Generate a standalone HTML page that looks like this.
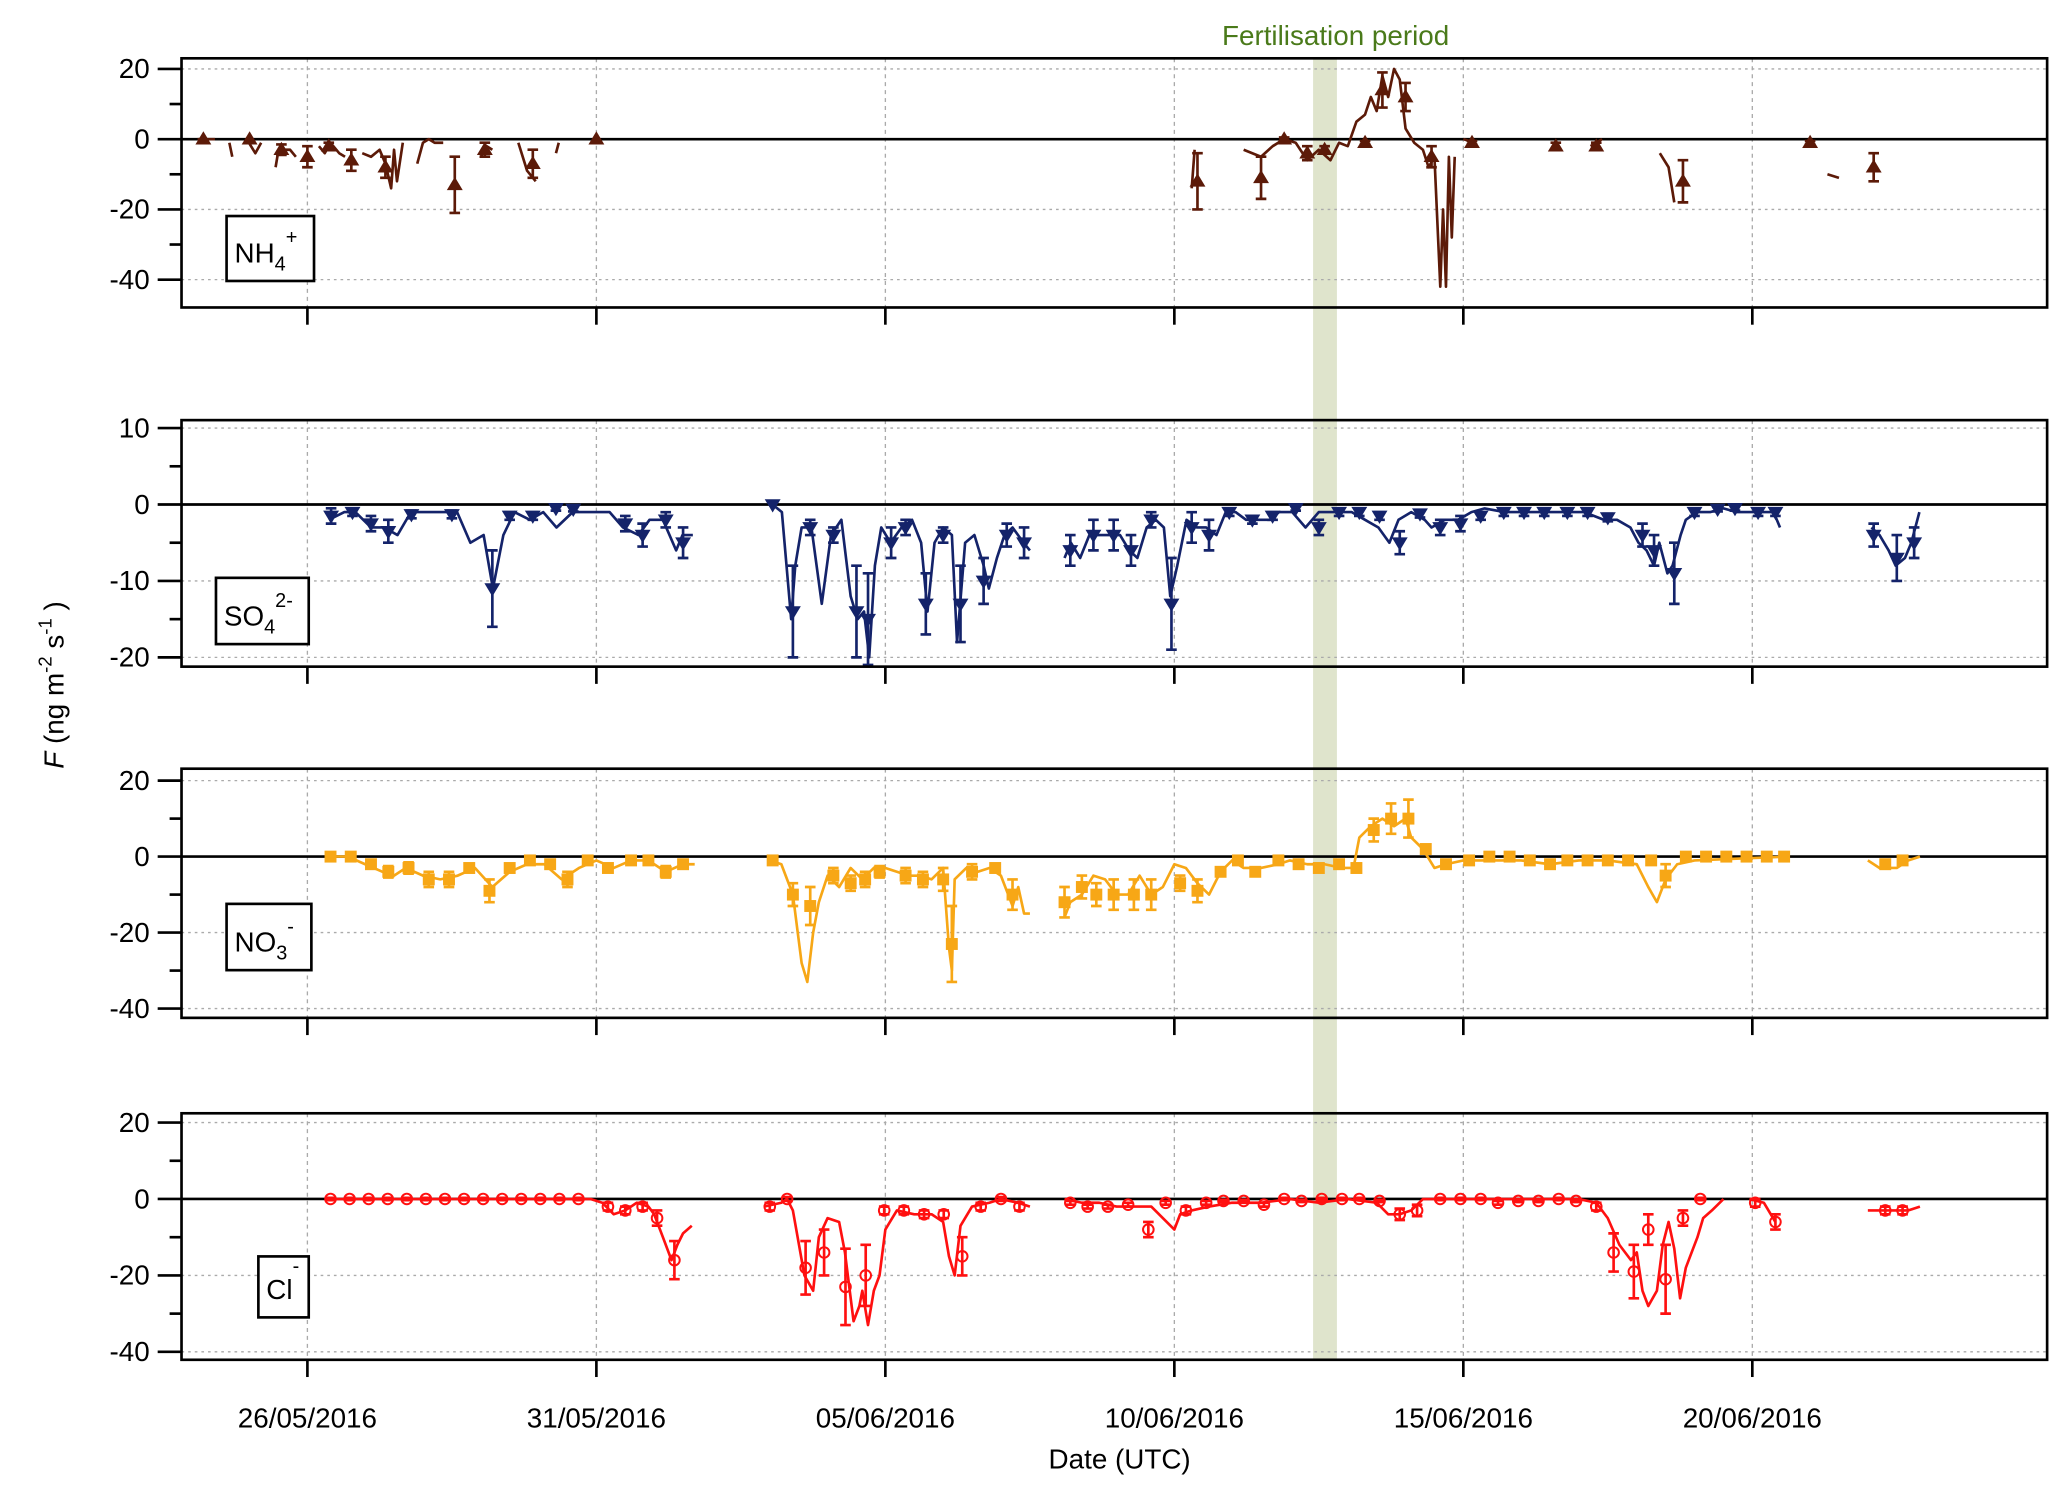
<!DOCTYPE html>
<html><head><meta charset="utf-8">
<style>
html,body{margin:0;padding:0;background:#fff;}
svg{display:block;font-family:"Liberation Sans",sans-serif;}
</style></head>
<body>
<svg id="chart" width="2067" height="1491" viewBox="0 0 1560 1125" preserveAspectRatio="none" xmlns="http://www.w3.org/2000/svg">
<rect x="991" y="44" width="18" height="981" fill="#dfe4cc"/>
<text x="1008" y="34" text-anchor="middle" font-size="21" fill="#4a7a1a">Fertilisation period</text>
<text x="845" y="1108" text-anchor="middle" font-size="21">Date (UTC)</text>
<text transform="translate(48,580) rotate(-90)" font-size="21"><tspan font-style="italic">F</tspan> (ng m<tspan dy="-9" font-size="14">-2</tspan><tspan dy="9"> s</tspan><tspan dy="-9" font-size="14">-1</tspan><tspan dy="9"> )</tspan></text>
<g id="layer"></g>
</svg>
<script>
// Shared x axis: days since 26/05/2016
const dateLabels = ["26/05/2016","31/05/2016","05/06/2016","10/06/2016","15/06/2016","20/06/2016"];
const dateDays = [0,5,10,15,20,25];

// NH4+
const nh4Line = [[-1.9,0],[-1.6,0],null,[-1.35,-1],[-1.3,-5],null,[-1.05,0],[-0.9,-4],[-0.8,-1],null,[-0.55,-8],[-0.5,-3],[-0.3,-3],[-0.2,-5],null,[0.2,-2],[0.3,-4],[0.4,-1],[0.55,-4],[0.65,-5],null,[0.95,-4],[1.1,-5],[1.25,-3],[1.35,-7],[1.45,-14],[1.5,-3],[1.55,-12],[1.65,-1],null,[1.9,-7],[2.0,-1],[2.1,0],[2.2,-1],[2.35,-1],null,[3.0,-5],[3.1,-2],[3.2,-3],null,[3.65,-1],[3.8,-9],[3.95,-12],null,[4.3,-4],[4.35,-1],null,[15.3,-14],[15.35,-3],null,[16.2,-3],[16.5,-5],[16.7,-2],[16.9,0],[17.1,-1],[17.3,-6],[17.5,-3],[17.7,-6],[17.85,-1],[18.0,-2],[18.15,5],[18.3,7],[18.4,12],[18.5,8],[18.6,18],[18.7,12],[18.8,20],[18.9,17],[19.0,3],[19.15,-1],[19.3,-3],[19.4,-8],[19.5,-5],[19.6,-42],[19.65,-20],[19.7,-42],[19.75,-5],[19.8,-28],[19.85,-5],null,[20.0,0],[20.2,-1],null,[22.2,-2],[22.4,0],null,[23.4,-4],[23.55,-8],[23.65,-18],null,[26.3,-10],[26.5,-11]];
const nh4Marks = [[-1.8,0,0],[-1.0,0,0],[-0.45,-3,1.5],[0,-5,3],[0.37,-2,1],[0.76,-6,3],[1.35,-8,3],[2.55,-13,8],[3.07,-3,2],[3.9,-7,4],[5.0,0,0],[15.4,-12,8],[16.5,-11,6],[16.9,0,0.5],[17.3,-4,2],[17.6,-3,1],[18.3,-1,0.5],[18.6,14,5],[19.0,12,4],[19.45,-5,3],[20.15,-1,0.5],[21.6,-2,1],[22.3,-2,1],[23.8,-12,6],[26.0,-1,0.5],[27.1,-8,4]];
// SO4 2-
const so4Line = [[0.37,-2],[0.64,-1],[0.83,-1],[1.10,-3],[1.33,-3],[1.56,-4],[1.79,-1],[2.25,-1],[2.59,-1],[2.82,-5],[3.05,-4],[3.21,-11],[3.39,-4],[3.58,-1],[3.85,-2],[4.08,-1],[4.31,-3],[4.59,-1],[5.0,-1],[5.23,-1],[5.46,-3],[5.73,-4],[5.92,-2],[6.15,-2],[6.38,-6],[6.49,-4],[6.67,-4],null,
[8.05,0],[8.21,-1],[8.37,-15],[8.44,-8],[8.55,-3],[8.72,-3],[8.9,-13],[9.06,-4],[9.24,-2],[9.4,-12],[9.52,-15],[9.63,-14],[9.72,-20],[9.82,-8],[9.93,-3],[10.09,-5],[10.28,-3],[10.46,-2],[10.62,-5],[10.73,-14],[10.85,-5],[11.0,-3],[11.15,-4],[11.24,-18],[11.38,-5],[11.54,-4],[11.7,-8],[11.79,-11],[11.93,-7],[12.06,-4],[12.2,-3],[12.39,-5],[12.5,-6],null,
[13.1,-7],[13.21,-5],[13.37,-7],[13.53,-4],[13.72,-4],[13.9,-4],[14.06,-4],[14.22,-6],[14.36,-7],[14.52,-3],[14.68,-2],[14.82,-3],[14.93,-12],[15.05,-8],[15.21,-2],[15.39,-3],[15.55,-3],[15.73,-4],[15.89,-1],[16.06,-1],[16.24,-2],[16.47,-2],[16.65,-2],[16.81,-1],[17.04,-1],[17.27,-3],[17.5,-1],[17.84,-1],[18.07,-1],[18.3,-2],[18.53,-3],[18.72,-5],[18.88,-2],[19.1,-1],[19.33,-2],[19.45,-3],[19.68,-2],[19.91,-2],[20.14,-1],[20.37,-0.5],[20.71,-1],[21.06,-1],[21.4,-1],[21.74,-1],[22.09,-1],[22.43,-2],[22.66,-2],[22.89,-3],[23.03,-5],[23.17,-6],[23.3,-8],[23.39,-5],[23.53,-9],[23.62,-8],[23.76,-4],[23.85,-2],[24.04,-1],[24.27,-1],[24.5,-0.5],[24.73,-1],[24.95,-1],[25.18,-1],[25.37,-1],[25.48,-3],null,
[27.06,-3],[27.2,-4],[27.36,-6],[27.48,-8],[27.64,-7],[27.75,-5],[27.89,-1]];
const so4Marks = [[0.41,-1.5,1],[0.78,-1,0.5],[1.1,-2.5,1],[1.4,-3.5,1.5],[1.8,-1.3,0.5],[2.5,-1.3,0.5],[3.2,-11,5],[3.5,-1.5,0.5],[3.9,-1.5,0.5],[4.3,-0.5,0.3],[4.6,-0.6,0.3],[5.5,-2.5,1],[5.8,-4,1.5],[6.2,-2,1],[6.5,-5,2],[8.05,0,0],[8.4,-14,6],[8.7,-3,1],[9.1,-4,1],[9.5,-14,6],[9.7,-15,6],[10.1,-5,2],[10.35,-3,1],[10.7,-13,4],[11.0,-4,1],[11.3,-13,5],[11.7,-10,3],[12.1,-4,1.5],[12.4,-5,2],[13.2,-6,2],[13.6,-4,2],[13.95,-4,2],[14.25,-6,2],[14.6,-2,1],[14.95,-13,6],[15.3,-3,2],[15.6,-4,2],[15.95,-1,0.5],[16.35,-2,0.5],[16.7,-1.5,0.5],[17.1,-0.5,0.3],[17.5,-3,1],[17.85,-1,0.5],[18.2,-1,0.5],[18.55,-1.5,0.5],[18.9,-5,1.5],[19.25,-1.2,0.5],[19.6,-3,1],[19.95,-2.5,1],[20.3,-1.5,0.5],[20.7,-1,0.5],[21.05,-1,0.5],[21.4,-1,0.5],[21.8,-1,0.5],[22.15,-1,0.5],[22.5,-1.7,0.5],[23.1,-4,1.5],[23.3,-6,2],[23.65,-9,4],[24.0,-1,0.5],[24.4,-0.6,0.3],[24.7,-0.5,0.3],[25.1,-1,0.5],[25.4,-1,0.5],[27.1,-4,1.5],[27.5,-7,3],[27.8,-5,2]];
// NO3-
const no3Line = [[0.4,0],[0.7,0],[1.0,-2],[1.3,-4],[1.5,-5],[1.7,-3],[2.0,-5],[2.3,-6],[2.6,-5],[2.9,-3],[3.2,-8],[3.5,-4],[3.8,-2],[4.1,-2],[4.4,-6],[4.7,-3],[5.0,-1],[5.3,-3],[5.6,-1],[5.9,-1],[6.2,-4],[6.5,-2],[6.7,-2],null,
[8.0,-1],[8.2,-2],[8.4,-10],[8.55,-28],[8.65,-33],[8.75,-20],[8.85,-12],[9.0,-5],[9.2,-8],[9.4,-3],[9.6,-6],[9.8,-3],[10.0,-3],[10.2,-4],[10.4,-5],[10.6,-5],[10.8,-6],[11.0,-3],[11.1,-24],[11.15,-30],[11.2,-6],[11.4,-3],[11.6,-4],[11.8,-3],[12.0,-5],[12.2,-13],[12.3,-8],[12.4,-15],[12.5,-15],null,
[13.1,-16],[13.2,-12],[13.4,-10],[13.6,-5],[13.8,-6],[14.0,-10],[14.2,-10],[14.4,-5],[14.6,-10],[14.8,-8],[15.0,-2],[15.2,-3],[15.4,-7],[15.6,-10],[15.8,-4],[16.0,-1],[16.2,-3],[16.5,-3],[16.8,-2],[17.0,-1],[17.3,-2],[17.6,-2],[17.9,-3],[18.1,-3],[18.2,5],[18.4,8],[18.6,10],[18.8,8],[19.0,10],[19.1,5],[19.3,2],[19.5,-3],[19.7,-2],[20.0,-1],[20.5,-1],[21.0,-1],[21.5,-2],[22.0,-1],[22.5,-1],[23.0,-2],[23.2,-8],[23.35,-12],[23.5,-6],[23.7,-2],[24.0,-1],[25.6,0],null,
[27.0,-1],[27.2,-3],[27.5,-3],[27.7,-1],[27.9,0]];
const no3Marks = [[0.4,0,0.5],[0.75,0,0.5],[1.1,-2,1],[1.4,-4,1.5],[1.75,-3,1.5],[2.1,-6,2],[2.45,-6,2],[2.8,-3,1],[3.15,-9,3],[3.5,-3,1],[3.85,-1,1],[4.2,-2,1],[4.5,-6,2],[4.85,-1,0.5],[5.2,-3,1],[5.6,-1,0.5],[5.9,-1,0.5],[6.2,-4,1.5],[6.5,-2,1],[8.05,-1,0.5],[8.4,-10,3],[8.7,-13,5],[9.1,-5,2],[9.4,-7,2],[9.65,-6,2],[9.9,-4,1.5],[10.35,-5,2],[10.65,-6,2],[11.0,-6,3],[11.15,-23,10],[11.5,-4,2],[11.9,-3,1],[12.2,-10,4],[13.1,-12,4],[13.4,-8,3],[13.65,-10,3],[13.95,-10,4],[14.3,-10,4],[14.6,-10,4],[15.1,-7,2],[15.4,-9,3],[15.8,-4,1],[16.1,-1,0.5],[16.4,-4,1],[16.8,-1,0.5],[17.15,-2,0.5],[17.5,-3,0.5],[17.85,-2,0.5],[18.15,-3,1],[18.45,7,3],[18.75,10,4],[19.05,10,5],[19.35,2,1],[19.7,-2,0.5],[20.1,-1,0.5],[20.45,0,0.5],[20.8,0,0.5],[21.15,-1,0.5],[21.5,-2,0.5],[21.8,-1,0.5],[22.15,-1,0.5],[22.5,-1,0.5],[22.85,-1,0.5],[23.25,-1,0.5],[23.5,-5,3],[23.85,0,0.3],[24.2,0,0.3],[24.55,0,0.3],[24.9,0,0.3],[25.25,0,0.3],[25.55,0,0.3],[27.3,-2,1],[27.6,-1,1]];
// Cl-
const clLine = [[0.4,0],[4.8,0],[4.9,0],[5.1,-1],[5.3,-4],[5.5,-3],[5.7,-1],[5.9,-2],[6.0,-4],[6.15,-10],[6.3,-16],[6.4,-12],[6.5,-9],[6.65,-7],null,
[7.9,-2],[8.2,-1],[8.3,0],[8.4,-3],[8.6,-20],[8.75,-24],[8.85,-10],[9.0,-5],[9.2,-6],[9.3,-14],[9.45,-32],[9.55,-28],[9.6,-24],[9.7,-33],[9.8,-24],[9.9,-20],[10.0,-8],[10.2,-3],[10.5,-4],[10.8,-4],[11.0,-6],[11.1,-15],[11.2,-20],[11.3,-7],[11.5,-2],[11.8,-1],[12.0,0],[12.3,-1],[12.5,-2],null,
[13.1,0],[13.4,-1],[13.7,-1],[14.0,-2],[14.3,-2],[14.6,-2],[14.8,-5],[15.0,-8],[15.1,-4],[15.3,-3],[15.6,-2],[16.0,-1],[16.5,-1],[17.0,0],[17.5,-1],[18.0,0],[18.5,-1],[18.7,-4],[18.9,-4],[19.1,-3],[19.3,0],[19.6,0],[20.0,0],[21.0,0],[22.0,0],[22.3,-1],[22.5,-5],[22.7,-12],[22.9,-16],[23.0,-14],[23.1,-24],[23.2,-28],[23.35,-24],[23.45,-12],[23.55,-6],[23.65,-13],[23.75,-26],[23.85,-18],[23.95,-14],[24.05,-10],[24.15,-5],[24.3,-3],[24.5,0],null,
[24.95,0],[25.2,-1],[25.4,-6],null,[27.0,-3],[27.3,-3],[27.5,-3],[27.7,-3],[27.9,-2]];
const clMarks = [[0.4,0,0.3],[0.73,0,0.3],[1.06,0,0.3],[1.39,0,0.3],[1.72,0,0.3],[2.05,0,0.3],[2.38,0,0.3],[2.71,0,0.3],[3.04,0,0.3],[3.37,0,0.3],[3.7,0,0.3],[4.03,0,0.3],[4.36,0,0.3],[4.69,0,0.3],[5.2,-2,1],[5.5,-3,1],[5.8,-2,1],[6.05,-5,2],[6.35,-16,5],[8.0,-2,1],[8.3,0,0.5],[8.62,-18,7],[8.94,-14,6],[9.31,-23,10],[9.66,-20,8],[9.98,-3,1],[10.32,-3,1],[10.67,-4,1],[11.01,-4,1],[11.33,-15,5],[11.65,-2,1],[12.0,0,0.5],[12.32,-2,1],[13.2,-1,0.5],[13.5,-2,0.5],[13.85,-2,0.5],[14.2,-1.5,0.5],[14.55,-8,2],[14.85,-1,0.5],[15.2,-3,1],[15.55,-1,0.5],[15.85,-0.5,0.3],[16.2,-0.5,0.3],[16.55,-1.5,0.5],[16.9,0,0.3],[17.2,-0.5,0.3],[17.55,0,0.3],[17.9,0,0.3],[18.2,0,0.3],[18.55,-0.5,0.3],[18.9,-4,1.5],[19.2,-3,1.5],[19.6,0,0.3],[19.95,0,0.3],[20.3,0,0.3],[20.6,-1,0.5],[20.95,-0.5,0.3],[21.3,-0.5,0.3],[21.65,0,0.3],[21.95,-0.5,0.3],[22.3,-2,1],[22.6,-14,5],[22.95,-19,7],[23.2,-8,4],[23.5,-21,9],[23.8,-5,2],[24.1,0,0.3],[25.05,-1,1],[25.4,-6,2],[27.3,-3,1],[27.6,-3,1]];

const NS="http://www.w3.org/2000/svg";
const layer=document.getElementById('layer');
const X0=137, X1=1545, XD0=232, PXDAY=43.62;
function xs(d){return XD0+d*PXDAY;}
function mk(tag,attrs,parent){const e=document.createElementNS(NS,tag);for(const k in attrs)e.setAttribute(k,attrs[k]);(parent||layer).appendChild(e);return e;}

const panels=[
 {name:'nh4',top:44,bot:232,ymax:20,ymin:-40,yTop:52,yBot:211,ticks:[20,0,-20,-40],minor:[10,-10,-30],color:'#5c1a08',line:nh4Line,marks:nh4Marks,shape:'tri-up',label:['NH','4','+'],box:[171,163,66,49]},
 {name:'so4',top:317,bot:503,ymax:10,ymin:-20,yTop:323,yBot:496,ticks:[10,0,-10,-20],minor:[5,-5,-15],color:'#14236a',line:so4Line,marks:so4Marks,shape:'tri-down',label:['SO','4','2-'],box:[163,436,70,50]},
 {name:'no3',top:580,bot:768,ymax:20,ymin:-40,yTop:589,yBot:761,ticks:[20,0,-20,-40],minor:[10,-10,-30],color:'#f7a716',line:no3Line,marks:no3Marks,shape:'square',label:['NO','3','-'],box:[171,682,64,50]},
 {name:'cl',top:840,bot:1026,ymax:20,ymin:-40,yTop:847,yBot:1020,ticks:[20,0,-20,-40],minor:[10,-10,-30],color:'#ff1010',line:clLine,marks:clMarks,shape:'circle',label:['Cl','',''],box:[195,948,38,46]}
];

panels.forEach((p,pi)=>{
 const ys=v=>p.yTop+(p.ymax-v)*(p.yBot-p.yTop)/(p.ymax-p.ymin);
 const g=mk('g',{});
 
 
 dateDays.forEach(d=>{const l=mk('line',{x1:xs(d),x2:xs(d),y1:p.top,y2:p.bot,stroke:'#aaa','stroke-width':1,'stroke-dasharray':'3,3'},g);
  
  });
 p.ticks.forEach(t=>{if(t===0)return;const l=mk('line',{x1:X0,x2:X1,y1:ys(t),y2:ys(t),stroke:'#aaa','stroke-width':1,'stroke-dasharray':'2,3'},g);
  
  });
 const z=mk('line',{x1:X0,x2:X1,y1:ys(0),y2:ys(0),stroke:'#000','stroke-width':2},g);
 
 
 let d='',pen=false;
 p.line.forEach(pt=>{if(!pt){pen=false;return;}d+=(pen?'L':'M')+xs(pt[0]).toFixed(1)+','+ys(pt[1]).toFixed(1);pen=true;});
 const path=mk('path',{d:d,fill:'none',stroke:p.color,'stroke-width':2,'stroke-linejoin':'round'},g);
 
 
 p.marks.forEach(m=>{
  const cx=xs(m[0]),cy=ys(m[1]),e=m[2];
  if(e>0){const y1=ys(m[1]+e),y2=ys(m[1]-e);
   const eb=mk('path',{d:`M${cx},${y1}L${cx},${y2}M${cx-4},${y1}L${cx+4},${y1}M${cx-4},${y2}L${cx+4},${y2}`,stroke:p.color,'stroke-width':2,fill:'none'},g);
   
   }
  let s;
  if(p.shape==='tri-up')s=mk('path',{d:`M${cx},${cy-6}L${cx+6},${cy+4}L${cx-6},${cy+4}Z`,fill:p.color},g);
  else if(p.shape==='tri-down')s=mk('path',{d:`M${cx},${cy+6}L${cx+6},${cy-4}L${cx-6},${cy-4}Z`,fill:p.color},g);
  else if(p.shape==='square')s=mk('rect',{x:cx-4.5,y:cy-4.5,width:9,height:9,fill:p.color},g);
  else s=mk('circle',{cx:cx,cy:cy,r:4,fill:'none',stroke:p.color,'stroke-width':1.5},g);
  
  
 });
 const fr=mk('rect',{x:X0,y:p.top,width:X1-X0,height:p.bot-p.top,fill:'none',stroke:'#000','stroke-width':2},g);
 
 
 p.ticks.forEach(t=>{mk('line',{x1:119,x2:X0,y1:ys(t),y2:ys(t),stroke:'#000','stroke-width':2},g);
  const tx=mk('text',{x:113,y:ys(t)+7,'text-anchor':'end','font-size':21},g);tx.textContent=t;
  
  });
 p.minor.forEach(t=>mk('line',{x1:128,x2:X0,y1:ys(t),y2:ys(t),stroke:'#000','stroke-width':2},g));
 dateDays.forEach(dd=>mk('line',{x1:xs(dd),x2:xs(dd),y1:p.bot,y2:p.bot+13,stroke:'#000','stroke-width':2},g));
 const b=p.box;
 const bx=mk('rect',{x:b[0],y:b[1],width:b[2],height:b[3],fill:'#fff',stroke:'#000','stroke-width':2},g);
 
 
 const lt=mk('text',{x:b[0]+6,y:b[1]+b[3]-14,'font-size':21},g);
 
 
 lt.innerHTML=p.label[0]+(p.label[1]?`<tspan dy="6" font-size="15">${p.label[1]}</tspan>`:'')+`<tspan dy="-20" font-size="15">${p.label[2]||'-'}</tspan>`;
});
dateDays.forEach((d,i)=>{const t=mk('text',{x:xs(d),y:1077,'text-anchor':'middle','font-size':21});t.textContent=dateLabels[i];
 
 });
</script>
</body></html>
